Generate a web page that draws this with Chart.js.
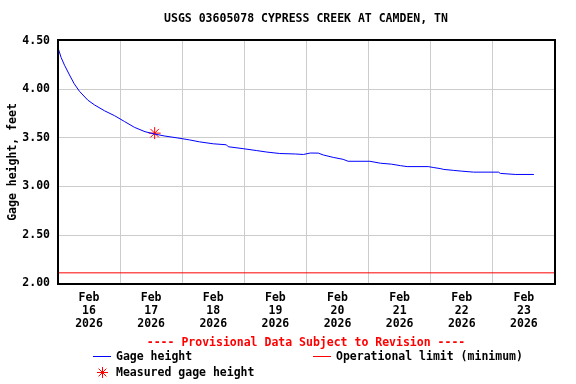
<!DOCTYPE html>
<html>
<head>
<meta charset="utf-8">
<script src="https://cdn.jsdelivr.net/npm/chart.js@4.4.0/dist/chart.umd.min.js"></script>
<style>
html, body { margin: 0; padding: 0; background: #fff; }
</style>
</head>
<body>
<canvas id="gageChart" width="576" height="384"></canvas>
<script>
// time in days since Feb 16 2026 00:00
const gageDays = [0.00, 0.05, 0.105, 0.185, 0.26, 0.347, 0.48, 0.59, 0.75, 0.91,
    1.07, 1.23, 1.40, 1.56, 1.72, 1.93, 2.12, 2.28, 2.50, 2.71,
    2.74, 2.98, 3.20, 3.36, 3.57, 3.82, 3.95, 4.06, 4.19, 4.27,
    4.43, 4.59, 4.67, 5.02, 5.19, 5.37, 5.51, 5.62, 5.96, 6.05,
    6.15, 6.21, 6.37, 6.50, 6.69, 7.09, 7.12, 7.36, 7.66];
const gageFeet = [4.43, 4.33, 4.25, 4.15, 4.06, 3.98, 3.89, 3.84, 3.78, 3.73,
    3.67, 3.61, 3.565, 3.54, 3.52, 3.50, 3.48, 3.46, 3.44, 3.43,
    3.41, 3.39, 3.37, 3.355, 3.34, 3.335, 3.33, 3.345, 3.344, 3.325,
    3.30, 3.28, 3.26, 3.26, 3.24, 3.23, 3.215, 3.205, 3.205, 3.195,
    3.185, 3.176, 3.166, 3.158, 3.148, 3.148, 3.135, 3.124, 3.124];
const measuredDays = [1.556];
const measuredFeet = [3.55];
const limitDays = [0, 8];
const limitFeet = [2.11, 2.11];
const dayLabels = ['16', '17', '18', '19', '20', '21', '22', '23'];
const yTicks = [2.00, 2.50, 3.00, 3.50, 4.00, 4.50];

const monoFont = 'bold 11.5px "DejaVu Sans Mono"';

const pts = (xs, ys) => xs.map((x, i) => ({ x: x, y: ys[i] }));

const usgsDecor = {
    id: 'usgsDecor',
    beforeDraw(chart) {
        const ctx = chart.ctx;
        ctx.save();
        ctx.fillStyle = '#fff';
        ctx.fillRect(0, 0, chart.width, chart.height);
        ctx.restore();
    },
    afterDraw(chart) {
        const ctx = chart.ctx;
        const a = chart.chartArea;
        ctx.save();
        ctx.strokeStyle = '#000';
        ctx.lineWidth = 2;
        ctx.strokeRect(a.left, a.top, a.right - a.left, a.bottom - a.top);

        ctx.font = monoFont;
        ctx.textBaseline = 'middle';
        ctx.textAlign = 'center';
        ctx.fillStyle = '#000';
        ctx.fillText('USGS 03605078 CYPRESS CREEK AT CAMDEN, TN', 306, 19);
        ctx.fillStyle = '#ff0000';
        ctx.fillText('---- Provisional Data Subject to Revision ----', 306, 343);

        // legend
        ctx.textAlign = 'left';
        ctx.lineWidth = 1;
        ctx.strokeStyle = '#0000ff';
        ctx.beginPath(); ctx.moveTo(93, 356.5); ctx.lineTo(111, 356.5); ctx.stroke();
        ctx.fillStyle = '#000';
        ctx.fillText('Gage height', 116, 357);

        ctx.strokeStyle = '#ff0000';
        ctx.beginPath(); ctx.moveTo(313, 356.5); ctx.lineTo(331, 356.5); ctx.stroke();
        ctx.fillText('Operational limit (minimum)', 336, 357);

        // asterisk marker
        const sx = 102.5, sy = 372.5, r = 5.5;
        ctx.beginPath();
        for (let k = 0; k < 4; k++) {
            const ang = k * Math.PI / 4;
            ctx.moveTo(sx - r * Math.cos(ang), sy - r * Math.sin(ang));
            ctx.lineTo(sx + r * Math.cos(ang), sy + r * Math.sin(ang));
        }
        ctx.stroke();
        ctx.fillText('Measured gage height', 116, 373);
        ctx.restore();
    }
};

const ctx = document.getElementById('gageChart').getContext('2d');
const gageChart = new Chart(ctx, {
    type: 'line',
    data: {
        datasets: [{
            label: 'Gage height',
            data: pts(gageDays, gageFeet),
            borderColor: '#0000ff',
            borderWidth: 1,
            pointRadius: 0,
            tension: 0
        }, {
            label: 'Operational limit (minimum)',
            data: pts(limitDays, limitFeet),
            borderColor: '#ff0000',
            borderWidth: 1,
            pointRadius: 0
        }, {
            label: 'Measured gage height',
            data: pts(measuredDays, measuredFeet),
            showLine: false,
            pointStyle: 'star',
            pointRadius: 6,
            borderColor: '#ff0000',
            borderWidth: 1,
            backgroundColor: '#ff0000'
        }]
    },
    options: {
        responsive: false,
        animation: false,
        devicePixelRatio: 1,
        layout: { padding: { top: 40, right: 21, left: 0, bottom: 0 } },
        plugins: {
            legend: { display: false },
            tooltip: { enabled: false }
        },
        scales: {
            x: {
                type: 'linear',
                min: 0,
                max: 8,
                afterBuildTicks: (scale) => {
                    scale.ticks = [0, 1, 2, 3, 4, 5, 6, 7, 8].map(v => ({ value: v }));
                },
                afterFit: (scale) => { scale.height = 100; },
                grid: { color: '#cccccc', lineWidth: 1, drawTicks: false },
                border: { display: false },
                ticks: {
                    autoSkip: false,
                    maxRotation: 0,
                    padding: 8,
                    labelOffset: 31,
                    color: '#000',
                    font: { family: 'DejaVu Sans Mono', size: 11.5, weight: 'bold', lineHeight: 1.1 },
                    callback: (v, i) => i < dayLabels.length ? ['Feb', dayLabels[i], '2026'] : ''
                }
            },
            y: {
                min: 1.995,
                max: 4.51,
                afterBuildTicks: (scale) => {
                    scale.ticks = yTicks.map(v => ({ value: v }));
                },
                afterFit: (scale) => { scale.width = 58; },
                grid: { color: '#cccccc', lineWidth: 1, drawTicks: false },
                border: { display: false },
                ticks: {
                    padding: 8,
                    color: '#000',
                    font: { family: 'DejaVu Sans Mono', size: 11.5, weight: 'bold' },
                    callback: (v) => v.toFixed(2)
                },
                title: {
                    display: true,
                    text: 'Gage height, feet',
                    color: '#000',
                    padding: { top: 6, bottom: 0 },
                    font: { family: 'DejaVu Sans Mono', size: 11.5, weight: 'bold' }
                }
            }
        }
    },
    plugins: [usgsDecor]
});
</script>
</body>
</html>
